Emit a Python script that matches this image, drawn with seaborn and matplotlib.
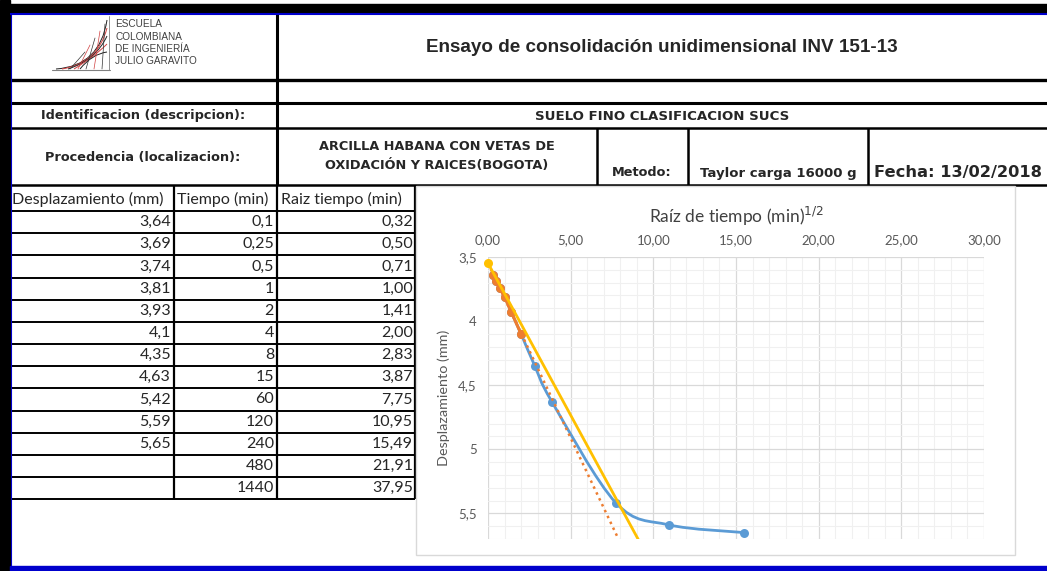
"""
Ensayo de consolidacion unidimensional - metodo de Taylor (raiz del tiempo)
Hoja de datos con tabla y grafica desplazamiento vs raiz del tiempo
"""
import numpy as np
import matplotlib
matplotlib.use("Agg")
import matplotlib.pyplot as plt
from matplotlib.lines import Line2D
from matplotlib.patches import Rectangle, PathPatch
from matplotlib.path import Path
from matplotlib.ticker import MultipleLocator, FuncFormatter
import seaborn as sns

# Datos de la lectura
desplazamiento = [3.64, 3.69, 3.74, 3.81, 3.93, 4.1, 4.35, 4.63, 5.42, 5.59, 5.65]
tiempo = [0.1, 0.25, 0.5, 1, 2, 4, 8, 15, 60, 120, 240, 480, 1440]
raiz_tiempo = [0.32, 0.50, 0.71, 1.00, 1.41, 2.00, 2.83, 3.87, 7.75, 10.95, 15.49, 21.91, 37.95]
n_inicial = 6          # puntos del tramo recto inicial
factor_taylor = 1.15

encabezado = ["Desplazamiento (mm)", "Tiempo (min)", "Raiz tiempo (min)"]
titulo = "Ensayo de consolidación unidimensional INV 151-13"
logo_lineas = ["ESCUELA", "COLOMBIANA", "DE INGENIERÍA", "JULIO GARAVITO"]

AZUL = "#5B9BD5"
NARANJA = "#ED7D31"
AMARILLO = "#FFC000"
GRIS = "#595959"

W, H = 1047, 571


def coma(v, dec=None):
    s = f"{v:.{dec}f}" if dec is not None else f"{v:g}"
    return s.replace(".", ",")


sns.set_theme(style="white")
plt.rcParams["font.family"] = ["Lato", "DejaVu Sans"]

fig = plt.figure(figsize=(W / 100, H / 100), dpi=100)
fig.patch.set_facecolor("white")

# capa de fondo en pixeles para la hoja
bg = fig.add_axes([0, 0, 1, 1], zorder=0)
bg.set_xlim(0, W)
bg.set_ylim(H, 0)
bg.axis("off")


def hline(y, x0, x1, lw=1.3, c="black", z=2):
    bg.add_line(Line2D([x0, x1], [y, y], lw=lw, color=c, zorder=z, solid_capstyle="butt"))


def vline(x, y0, y1, lw=1.3, c="black", z=2):
    bg.add_line(Line2D([x, x], [y0, y1], lw=lw, color=c, zorder=z, solid_capstyle="butt"))


# bordes exteriores
bg.add_patch(Rectangle((0, 4), W, 9, color="black", zorder=3))
bg.add_patch(Rectangle((0, 0), 10, H, color="black", zorder=3))
hline(14, 10, W, lw=1.5, c="#0000CC", z=3)
vline(11, 14, H, lw=0.8, c="#0000CC", z=3)
bg.add_patch(Rectangle((10, 566), W, 5, color="#0000CC", zorder=3))

# cuadricula de encabezado
hline(80, 10, W, lw=2.4)
hline(103, 10, W, lw=2.2)
hline(128, 10, W, lw=1.8)
hline(185, 10, W, lw=1.8)
vline(277, 14, 185, lw=2.2)
for x in [597, 688, 868]:
    vline(x, 128, 185, lw=1.8)

# logo
bg.add_line(Line2D([52, 110], [70, 70], lw=0.8, color="#808080", zorder=2))
bg.add_line(Line2D([109, 109], [16, 70], lw=0.6, color="#808080", zorder=2))
for i, col in enumerate(["#222222", "#D04040", "#222222", "#D04040", "#222222"]):
    verts = [(56 + i * 6, 69), (100 - i * 2, 66 - i * 3), (107, 20 + i * 8)]
    bg.add_patch(PathPatch(Path(verts, [Path.MOVETO, Path.CURVE3, Path.CURVE3]),
                           fill=False, lw=0.7, ec=col, zorder=2))
for i in range(5):
    bg.add_line(Line2D([70 + i * 8, 85 + i * 5], [69, 52 - i * 7], lw=0.5,
                       color="#D04040" if i % 2 else "#333333", zorder=2))
for i, t in enumerate(logo_lineas):
    bg.text(115, 24 + i * 12.5, t, fontsize=7.2, family="Liberation Sans",
            color="#404040", va="center", ha="left")

bg.text(662, 47, titulo, fontsize=13.6, fontweight="bold", family="Liberation Sans",
        ha="center", va="center")

neg = dict(fontweight="bold", family="DejaVu Sans", va="center", ha="center", fontsize=9.3)
bg.text(143, 116, "Identificacion (descripcion):", **neg)
bg.text(143, 157, "Procedencia (localizacion):", **neg)
bg.text(662, 116, "SUELO FINO CLASIFICACION SUCS", **{**neg, "fontsize": 9.6})
bg.text(437, 147, "ARCILLA HABANA CON VETAS DE", **neg)
bg.text(437, 165, "OXIDACIÓN Y RAICES(BOGOTA)", **neg)
bg.text(642, 173, "Metodo:", **neg)
bg.text(778, 174, "Taylor carga 16000 g", **{**neg, "fontsize": 9.5})
bg.text(958, 173, "Fecha: 13/02/2018", fontweight="bold", family="DejaVu Sans",
        va="center", ha="center", fontsize=11.7)

# tabla de lecturas
cols = [10, 174, 277, 415]
fila0, alto = 211, 22.17
n_filas = len(tiempo)
for x in cols:
    vline(x, 185, fila0 + alto * n_filas, lw=1.6)
for i in range(n_filas + 1):
    hline(fila0 + alto * i, 10, 415, lw=1.4)
for x, t in zip([12, 177, 281], encabezado):
    bg.text(x, 199, t, fontsize=11.5, ha="left", va="center")
for i in range(n_filas):
    yc = fila0 + alto * i + alto / 2
    if i < len(desplazamiento):
        bg.text(171, yc, coma(desplazamiento[i]), fontsize=11.5, ha="right", va="center")
    bg.text(274, yc, coma(tiempo[i]), fontsize=11.5, ha="right", va="center")
    bg.text(413, yc, coma(raiz_tiempo[i], 2), fontsize=11.5, ha="right", va="center")

# marco de la grafica
bg.add_patch(Rectangle((416, 186), 599, 369, fc="white", ec="#D9D9D9", lw=1, zorder=5))

# grafica
ax = fig.add_axes([488 / W, 1 - 539 / H, 496 / W, 282 / H], zorder=2)
ax.set_facecolor("white")

x_all = np.array(raiz_tiempo[:len(desplazamiento)])
y_all = np.array(desplazamiento)

# curva suavizada (bezier por los puntos medidos)
pts = np.column_stack([x_all, y_all])
ext = np.vstack([pts[0], pts, pts[-1]])
verts = [tuple(pts[0])]
codes = [Path.MOVETO]
for i in range(len(pts) - 1):
    c1 = pts[i] + (ext[i + 2] - ext[i]) / 6
    c2 = pts[i + 1] - (ext[i + 3] - ext[i + 1]) / 6
    verts += [tuple(c1), tuple(c2), tuple(pts[i + 1])]
    codes += [Path.CURVE4] * 3
ax.add_patch(PathPatch(Path(verts, codes), fill=False, ec=AZUL, lw=2, zorder=2))
sns.scatterplot(x=x_all, y=y_all, color=AZUL, s=42, edgecolor=AZUL, linewidth=0,
                ax=ax, zorder=3)

# tramo inicial
sns.lineplot(x=x_all[:n_inicial], y=y_all[:n_inicial], color=NARANJA, lw=2.2,
             marker="o", markersize=6.5, markeredgewidth=0, sort=False, ax=ax, zorder=4)

# linea de tendencia del tramo inicial y recta de Taylor (1.15)
m, b = np.polyfit(x_all[:n_inicial], y_all[:n_inicial], 1)
y_fin = 6.0
sns.lineplot(x=[0, (y_fin - b) / m], y=[b, y_fin], color=NARANJA, lw=1.8,
             linestyle=(0, (1, 1.6)), ax=ax, zorder=5)
ax.plot([0, factor_taylor * (y_fin - b) / m], [b, y_fin], color=AMARILLO, lw=2,
        zorder=6, clip_on=True)
ax.plot([0], [b], "o", color=AMARILLO, markersize=6.5, markeredgewidth=0,
        zorder=7, clip_on=False)

ax.set_xlim(0, 30)
ax.set_ylim(5.7, 3.5)
ax.xaxis.tick_top()
ax.xaxis.set_label_position("top")
ax.xaxis.set_major_locator(MultipleLocator(5))
ax.xaxis.set_minor_locator(MultipleLocator(1))
ax.yaxis.set_major_locator(MultipleLocator(0.5))
ax.yaxis.set_minor_locator(MultipleLocator(0.1))
ax.xaxis.set_major_formatter(FuncFormatter(lambda v, p: coma(v, 2)))
ax.yaxis.set_major_formatter(FuncFormatter(lambda v, p: coma(round(v, 2))))
ax.grid(which="major", color="#D9D9D9", lw=0.9)
ax.grid(which="minor", color="#F0F0F0", lw=0.8)
ax.set_axisbelow(True)
for s in ax.spines.values():
    s.set_visible(False)
ax.tick_params(which="both", length=0, labelsize=9.5, labelcolor=GRIS, pad=8)
ax.set_xlabel("Raíz de tiempo (min)$^{1/2}$", fontsize=12.5, color="#404040", labelpad=8)
ax.set_ylabel("Desplazamiento (mm)", fontsize=10.4, color=GRIS, labelpad=6)

fig.savefig("out.png", dpi=100)
plt.close(fig)
